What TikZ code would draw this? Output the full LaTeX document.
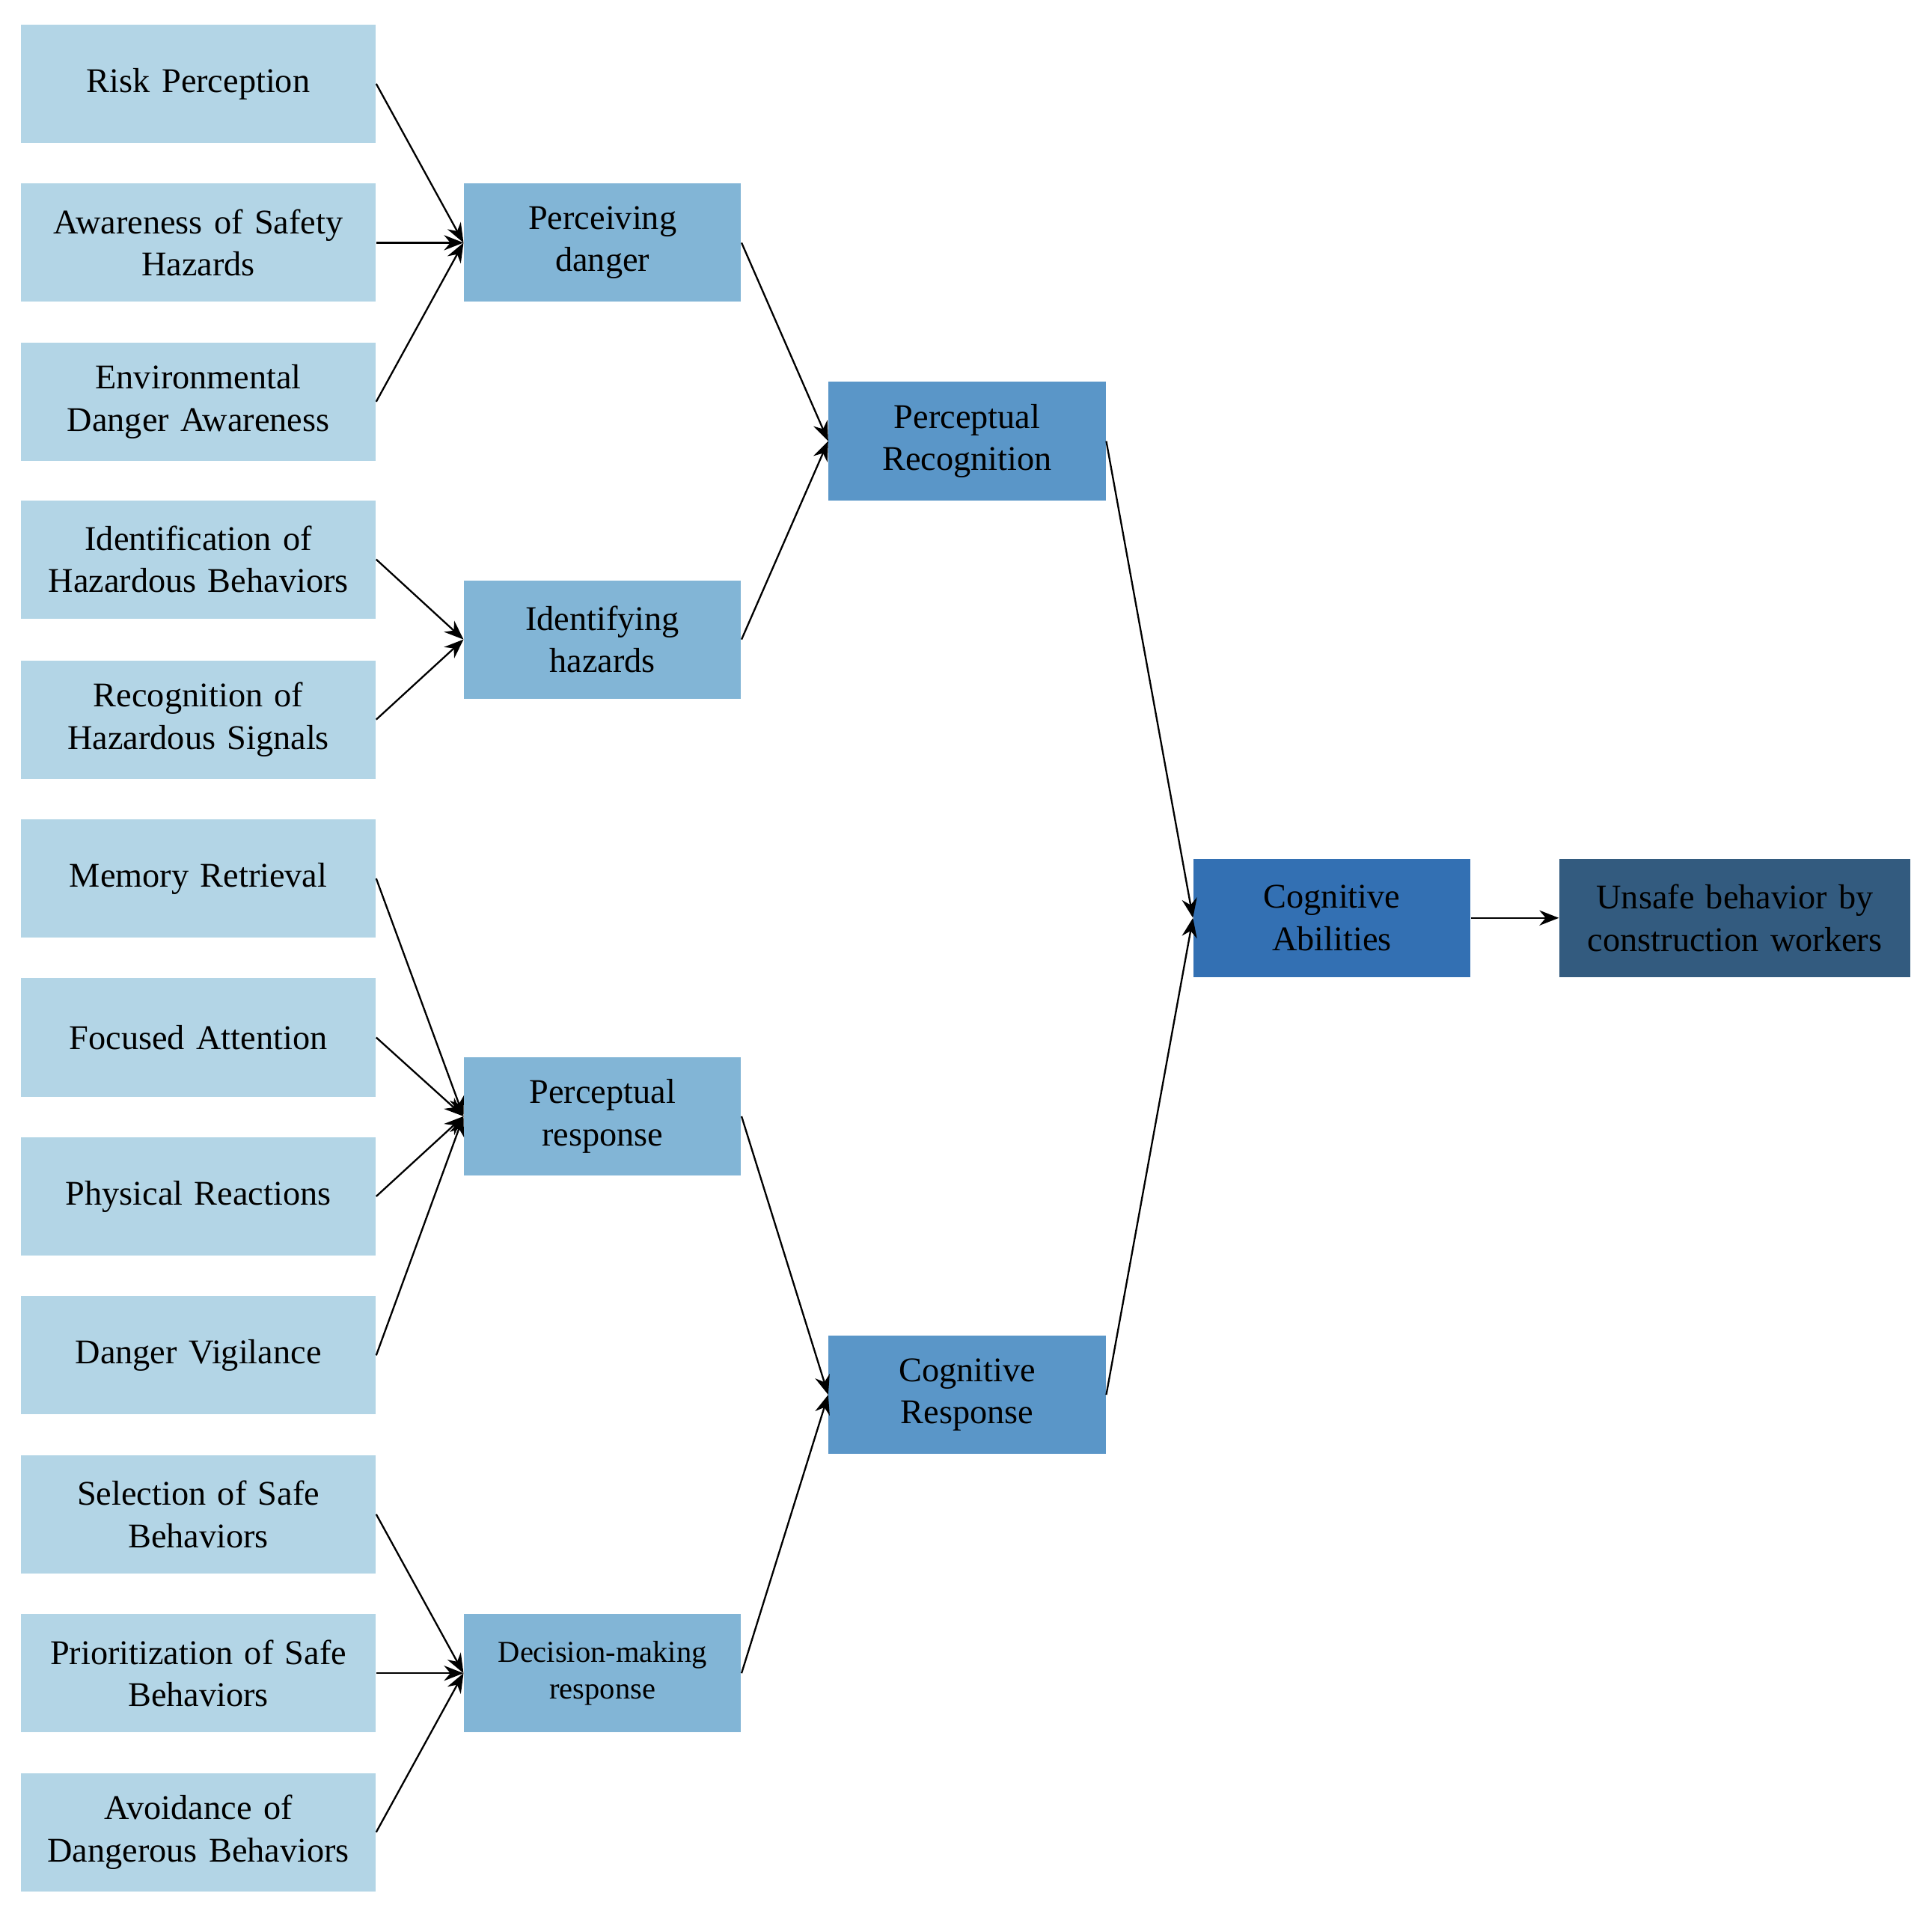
\documentclass[tikz,border=0pt]{standalone}
\usepackage{fontspec}
\setmainfont{Liberation Serif}
\usetikzlibrary{arrows.meta}
\definecolor{leafc}{HTML}{B3D5E6}
\definecolor{midc}{HTML}{82B5D6}
\definecolor{topc}{HTML}{5A96C8}
\definecolor{rootc}{HTML}{3370B3}
\definecolor{endc}{HTML}{335B7F}
\begin{document}
\begin{tikzpicture}[x=0.02cm, y=-0.02cm,
    box/.style={rectangle, inner sep=2pt, align=center, font=\fontsize{16}{19.5}\selectfont},
    leaf/.style={box, fill=leafc, minimum width=5.76cm, minimum height=1.92cm, text width=5.2cm},
    mid/.style={box, fill=midc, minimum width=4.5cm, minimum height=1.92cm, text width=4.1cm},
    top/.style={box, fill=topc, minimum width=4.5cm, minimum height=1.92cm, text width=4.1cm},
    link/.style={-{Stealth[length=9pt,width=7pt]}, thick}]
  \useasboundingbox (0,0) rectangle (1568,1548);
  % leaves
  \node[leaf] (rp) at (161,68) {Risk Perception};
  \node[leaf] (as) at (161,197) {Awareness of Safety\\Hazards};
  \node[leaf] (ed) at (161,326) {Environmental\\Danger Awareness};
  \node[leaf] (ih) at (161,454) {Identification of\\Hazardous Behaviors};
  \node[leaf] (rh) at (161,584) {Recognition of\\Hazardous Signals};
  \node[leaf] (mr) at (161,713) {Memory Retrieval};
  \node[leaf] (fa) at (161,842) {Focused Attention};
  \node[leaf] (pr) at (161,971) {Physical Reactions};
  \node[leaf] (dv) at (161,1100) {Danger Vigilance};
  \node[leaf] (ss) at (161,1229) {Selection of Safe\\Behaviors};
  \node[leaf] (ps) at (161,1358) {Prioritization of Safe\\Behaviors};
  \node[leaf] (ad) at (161,1487) {Avoidance of\\Dangerous Behaviors};
  % second level
  \node[mid] (pd) at (489,197) {Perceiving\\danger};
  \node[mid] (ihz) at (489,519) {Identifying\\hazards};
  \node[mid] (presp) at (489,906) {Perceptual\\response};
  \node[mid, font=\fontsize{14}{17}\selectfont] (dm) at (489,1358) {Decision-making\\response};
  % third level
  \node[top] (prec) at (785,358) {Perceptual\\Recognition};
  \node[top] (cr) at (785,1132) {Cognitive\\Response};
  % root and outcome
  \node[box, fill=rootc, minimum width=4.5cm, minimum height=1.92cm, text width=4.1cm] (ca) at (1081,745) {Cognitive\\Abilities};
  \node[box, fill=endc, minimum width=5.7cm, minimum height=1.92cm, text width=5.5cm] (ub) at (1408,745) {Unsafe behavior by\\construction workers};
  % links
  \foreach \a in {rp,as,ed} \draw[link] (\a.east) -- (pd.west);
  \foreach \a in {ih,rh} \draw[link] (\a.east) -- (ihz.west);
  \foreach \a in {mr,fa,pr,dv} \draw[link] (\a.east) -- (presp.west);
  \foreach \a in {ss,ps,ad} \draw[link] (\a.east) -- (dm.west);
  \foreach \a in {pd,ihz} \draw[link] (\a.east) -- (prec.west);
  \foreach \a in {presp,dm} \draw[link] (\a.east) -- (cr.west);
  \foreach \a in {prec,cr} \draw[link] (\a.east) -- (ca.west);
  \draw[link] (ca.east) -- (ub.west);
\end{tikzpicture}
\end{document}
